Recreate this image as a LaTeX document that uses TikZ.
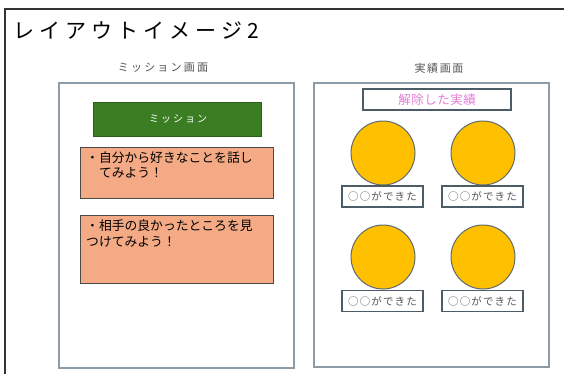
\documentclass[tikz,border=0pt]{standalone}
\usepackage{fontspec}
\newfontfamily\jp{Noto Sans CJK JP}
\definecolor{frame}{HTML}{333333}
\definecolor{panelc}{HTML}{8C9BA5}
\definecolor{greenfill}{HTML}{3B7D23}
\definecolor{greenline}{HTML}{2E5E1C}
\definecolor{orangefill}{HTML}{F4AA85}
\definecolor{orangeline}{HTML}{4A4A4A}
\definecolor{goldfill}{HTML}{FFC000}
\definecolor{goldline}{HTML}{5F6B70}
\definecolor{labline}{HTML}{4D5D68}
\definecolor{pinktext}{HTML}{E37ED6}
\definecolor{graytext}{HTML}{555555}
\tikzset{
  panel/.style={draw=panelc, line width=1.5pt, fill=white},
  missionbox/.style={draw=greenline, line width=1pt, fill=greenfill},
  taskbox/.style={draw=orangeline, line width=1pt, fill=orangefill},
  badge/.style={circle, draw=goldline, line width=1pt, fill=goldfill, minimum size=64pt, inner sep=0pt},
  labbox/.style={draw=labline, line width=1.2pt, fill=white, minimum width=81pt, minimum height=21pt, inner sep=0pt,
    font={\jp\fontsize{10.5}{12}\selectfont\addfontfeature{LetterSpace=11}}, text=graytext},
  plain/.style={inner sep=0pt},
}
\begin{document}
\begin{tikzpicture}[x=1pt,y=-1pt]
\useasboundingbox (0,0) rectangle (564,373);
\fill[white] (0,0) rectangle (564,373);
% outer frame
\draw[frame, line width=2pt] (5,380) -- (5,9) -- (570,9);
% title
\node[plain, anchor=base west, font={\jp\fontsize{21}{24}\selectfont\addfontfeature{LetterSpace=24}}] (title) at (13,38) {レイアウトイメージ2};
% headers
\node[plain, text=graytext, font={\jp\fontsize{11}{13}\selectfont\addfontfeature{LetterSpace=20}}] (h1) at (163,68) {ミッション画面};
\node[plain, text=graytext, font={\jp\fontsize{11}{13}\selectfont\addfontfeature{LetterSpace=14}}] (h2) at (439,68) {実績画面};
% panels
\draw[panel] (59,83) rectangle (294,368);
\draw[panel] (314,83) rectangle (549,367);
% mission panel
\draw[missionbox] (93,102) rectangle (261,136);
\node[plain, text=white, font={\jp\fontsize{10}{12}\selectfont\addfontfeature{LetterSpace=20}}] (mlabel) at (178,119) {ミッション};
\draw[taskbox] (80,147) rectangle (273,198);
\node[plain, anchor=base west, align=left, font={\jp\fontsize{12.8}{15.5}\selectfont}] (t1) at (86,177.5) {・自分から好きなことを話し\\\hspace*{12.8pt}てみよう！};
\draw[taskbox] (80,215) rectangle (273,283);
\node[plain, anchor=base west, align=left, font={\jp\fontsize{12.8}{16}\selectfont}] (t2) at (86,246) {・相手の良かったところを見\\つけてみよう！};
% achievements panel
\draw[draw=labline, line width=1.2pt, fill=white] (363,89) rectangle (511,110);
\node[plain, text=pinktext, font={\jp\fontsize{12.5}{14}\selectfont\addfontfeature{LetterSpace=4}}] (achtitle) at (437,99.5) {解除した実績};
\node[badge] (c1) at (383,153) {};
\node[badge] (c2) at (483,153) {};
\node[badge] (c3) at (383,257) {};
\node[badge] (c4) at (483,257) {};
\node[labbox] (l1) at (382.5,196.5) {○○ができた};
\node[labbox] (l2) at (482.5,196.5) {○○ができた};
\node[labbox] (l3) at (382.5,301) {○○ができた};
\node[labbox] (l4) at (482.5,301) {○○ができた};
\end{tikzpicture}
\end{document}
